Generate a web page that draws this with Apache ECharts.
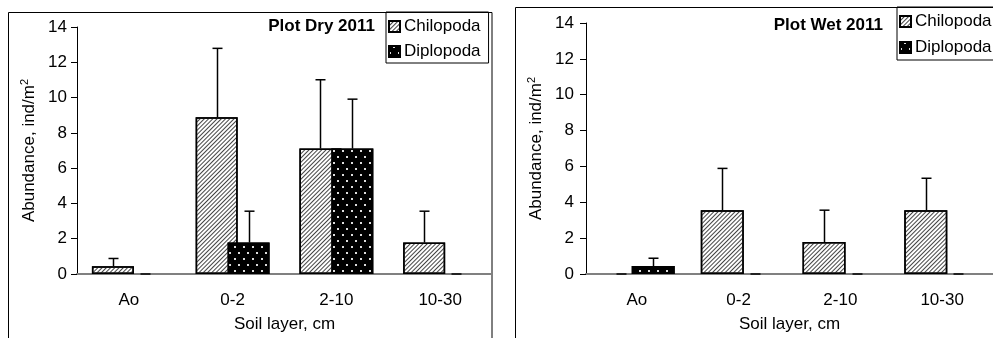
<!DOCTYPE html>
<html>
<head>
<meta charset="utf-8">
<title>Chilopoda / Diplopoda abundance</title>
<script src="https://cdn.jsdelivr.net/npm/echarts@6.0.0/dist/echarts.min.js"></script>
<style>
  html, body { margin: 0; padding: 0; background: #fff; }
  #chart { width: 993px; height: 338px; }
</style>
</head>
<body>
<div id="chart"></div>
<script>
// soil layers (x categories)
const layers = ['Ao', '0-2', '2-10', '10-30'];
const yTicks = [0, 2, 4, 6, 8, 10, 12, 14];

// Plot Dry 2011
const dryChilopoda = [0.44, 8.89, 7.11, 1.78];
const dryChilopodaErr = [0.44, 3.9, 3.9, 1.78];
const dryDiplopoda = [0, 1.78, 7.11, 0];
const dryDiplopodaErr = [0, 1.78, 2.8, 0];

// Plot Wet 2011
const wetChilopoda = [0, 3.56, 1.78, 3.56];
const wetChilopodaErr = [0, 2.33, 1.78, 1.78];
const wetDiplopoda = [0.44, 0, 0, 0];
const wetDiplopodaErr = [0.44, 0, 0, 0];

const FONT = 'Liberation Sans, Arial, sans-serif';
const FS = 17;
const BAR_W = [42, 43];
const BAR_GAP = -0.24;

const hatch = {
    symbol: 'rect', symbolSize: 1,
    dashArrayX: [1, 0], dashArrayY: [0.9, 2],
    rotation: -Math.PI / 4,
    color: '#444'
};
const dots = {
    symbol: 'rect', symbolSize: 1,
    dashArrayX: [[1.3, 6.7], [0, 4, 1.3, 2.7]], dashArrayY: [1.3, 3.2],
    color: '#ddd'
};

// error bar (and the little dash Excel leaves for a zero bar)
function errRender(offset) {
    return function (params, api) {
        const i = api.value(0), v = api.value(1), e = api.value(2);
        const base = api.coord([i, v]);
        const x = Math.round(base[0] + offset) + 0.5;
        if (!v) {
            return { type: 'line', shape: { x1: x - 5, y1: base[1], x2: x + 5, y2: base[1] },
                     style: { stroke: '#222', lineWidth: 2 } };
        }
        if (!e) return;
        const top = api.coord([i, v + e]);
        const st = { stroke: '#000', lineWidth: 1.5 };
        return {
            type: 'group',
            children: [
                { type: 'line', shape: { x1: x, y1: base[1], x2: x, y2: top[1] }, style: st },
                { type: 'line', shape: { x1: x - 5, y1: top[1], x2: x + 5, y2: top[1] }, style: st }
            ]
        };
    };
}

function errData(vals, errs) {
    return vals.map((v, i) => [i, v, errs[i]]);
}

// zero bars get no outline so only the short dash shows
function barData(vals) {
    return vals.map(v => v ? v : { value: v, itemStyle: { borderWidth: 0 } });
}

function panelSeries(idx, chil, chilErr, dipl, diplErr) {
    const off = BAR_W[idx] * (1 + BAR_GAP) / 2;
    return [
        {
            name: 'Chilopoda', type: 'bar', xAxisIndex: idx, yAxisIndex: idx,
            data: barData(chil), barWidth: BAR_W[idx], barGap: (BAR_GAP * 100) + '%',
            itemStyle: { color: '#fff', borderColor: '#000', borderWidth: 1.5, decal: hatch },
            emphasis: { disabled: true }
        },
        {
            name: 'Diplopoda', type: 'bar', xAxisIndex: idx, yAxisIndex: idx,
            data: barData(dipl), barWidth: BAR_W[idx], barGap: (BAR_GAP * 100) + '%',
            itemStyle: { color: '#000', borderColor: '#000', borderWidth: 1.5, decal: dots },
            emphasis: { disabled: true }
        },
        {
            type: 'custom', xAxisIndex: idx, yAxisIndex: idx, z: 5,
            renderItem: errRender(-off), data: errData(chil, chilErr), silent: true
        },
        {
            type: 'custom', xAxisIndex: idx, yAxisIndex: idx, z: 5,
            renderItem: errRender(off), data: errData(dipl, diplErr), silent: true
        }
    ];
}

function xAxis(idx) {
    return {
        type: 'category', gridIndex: idx, data: layers,
        axisLine: { lineStyle: { color: '#808080', width: 2 } },
        axisTick: { show: false },
        axisLabel: { margin: 18, color: '#000', fontFamily: FONT, fontSize: FS },
        name: 'Soil layer, cm', nameLocation: 'middle', nameGap: 42,
        nameTextStyle: { color: '#000', fontFamily: FONT, fontSize: FS }
    };
}

function yAxis(idx, gap, margin) {
    return {
        type: 'value', gridIndex: idx, min: yTicks[0], max: yTicks[yTicks.length - 1], interval: 2,
        axisLine: { show: true, lineStyle: { color: '#000', width: 1 } },
        axisTick: { show: true, length: 6, lineStyle: { color: '#000' } },
        splitLine: { show: false },
        axisLabel: { margin: margin, color: '#000', fontFamily: FONT, fontSize: FS },
        name: 'Abundance, ind/m{sup|2}', nameLocation: 'middle', nameGap: gap,
        nameTextStyle: {
            color: '#000', fontFamily: FONT, fontSize: FS,
            rich: { sup: { fontSize: 11, verticalAlign: 'top', padding: [0, 0, 10, 0], color: '#000', fontFamily: FONT } }
        }
    };
}

function legend(left, top, gap, pad) {
    return {
        data: ['Chilopoda', 'Diplopoda'], orient: 'vertical',
        left: left, top: top, itemGap: gap, padding: pad,
        itemWidth: 11, itemHeight: 11, icon: 'rect',
        borderColor: '#000', borderWidth: 1, borderRadius: 0,
        selectedMode: false,
        textStyle: { color: '#000', fontFamily: FONT, fontSize: FS, padding: [0, 0, 0, -1] }
    };
}

const chart = echarts.init(document.getElementById('chart'), null, { renderer: 'canvas' });

chart.setOption({
    backgroundColor: '#fff',
    animation: false,
    title: [
        { text: 'Plot Dry 2011', right: 618, top: 18, padding: 0,
          textStyle: { fontFamily: FONT, fontSize: FS, fontWeight: 'bold', color: '#000' } },
        { text: 'Plot Wet 2011', right: 110, top: 17, padding: 0,
          textStyle: { fontFamily: FONT, fontSize: FS, fontWeight: 'bold', color: '#000' } }
    ],
    legend: [
        legend(386, 12, 8, [6, 8, 3, 2]),
        legend(897, 7, 9, [6, 8, 4, 2])
    ],
    grid: [
        { left: 77, top: 27, width: 415, height: 250 },
        { left: 586, top: 23, width: 419, height: 254 }
    ],
    xAxis: [xAxis(0), xAxis(1)],
    yAxis: [yAxis(0, 37, 10), yAxis(1, 39, 12)],
    graphic: [
        { type: 'rect', z: 0, silent: true, shape: { x: 8.5, y: 12.5, width: 483.5, height: 400 },
          style: { fill: null, stroke: '#000', lineWidth: 1 } },
        { type: 'rect', z: 0, silent: true, shape: { x: 515.5, y: 7.5, width: 520, height: 400 },
          style: { fill: null, stroke: '#000', lineWidth: 1 } }
    ],
    series: [].concat(
        panelSeries(0, dryChilopoda, dryChilopodaErr, dryDiplopoda, dryDiplopodaErr),
        panelSeries(1, wetChilopoda, wetChilopodaErr, wetDiplopoda, wetDiplopodaErr)
    )
});
</script>
</body>
</html>
